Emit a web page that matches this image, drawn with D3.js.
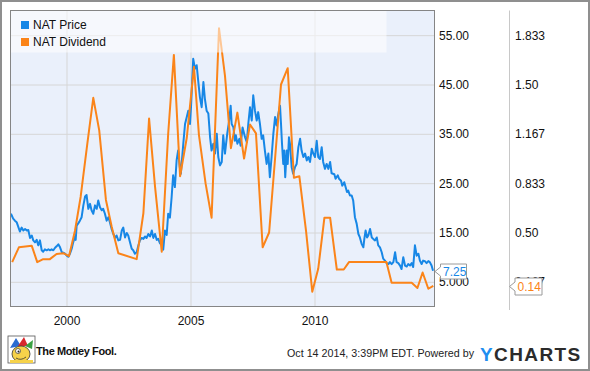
<!DOCTYPE html>
<html>
<head>
<meta charset="utf-8">
<script src="https://cdn.jsdelivr.net/npm/d3@7"></script>
<style>
  body { margin: 0; background: #fff; }
  svg { display: block; font-family: "Liberation Sans", Arial, sans-serif; }
</style>
</head>
<body>
<div id="chart"></div>
<script>
// NAT weekly price (decimal year, USD)
const priceYears = [
  1997.76, 1997.85, 1997.92, 1997.99, 1998.06, 1998.12, 1998.19, 1998.26, 1998.33, 1998.40,
  1998.46, 1998.53, 1998.60, 1998.66, 1998.73, 1998.80, 1998.86, 1998.93, 1999.00, 1999.06,
  1999.13, 1999.20, 1999.27, 1999.33, 1999.40, 1999.47, 1999.54, 1999.60, 1999.67, 1999.74,
  1999.81, 1999.87, 1999.94, 2000.01, 2000.07, 2000.14, 2000.21, 2000.27, 2000.34, 2000.37,
  2000.41, 2000.48, 2000.54, 2000.61, 2000.68, 2000.75, 2000.81, 2000.88, 2000.95, 2001.01,
  2001.08, 2001.15, 2001.22, 2001.28, 2001.35, 2001.42, 2001.48, 2001.55, 2001.62, 2001.69,
  2001.75, 2001.82, 2001.89, 2001.96, 2002.02, 2002.09, 2002.16, 2002.23, 2002.29, 2002.36,
  2002.43, 2002.49, 2002.56, 2002.63, 2002.69, 2002.76, 2002.83, 2002.90, 2002.96, 2003.03,
  2003.10, 2003.17, 2003.23, 2003.30, 2003.37, 2003.44, 2003.50, 2003.57, 2003.64, 2003.70,
  2003.77, 2003.84, 2003.90, 2003.97, 2004.04, 2004.10, 2004.17, 2004.24, 2004.30, 2004.37,
  2004.44, 2004.50, 2004.57, 2004.61, 2004.71, 2004.78, 2004.85, 2004.91, 2004.98, 2005.02,
  2005.11, 2005.18, 2005.25, 2005.31, 2005.38, 2005.45, 2005.52, 2005.58, 2005.65, 2005.72,
  2005.79, 2005.85, 2005.92, 2005.99, 2006.06, 2006.12, 2006.19, 2006.26, 2006.32, 2006.39,
  2006.48, 2006.56, 2006.62, 2006.66, 2006.73, 2006.79, 2006.83, 2006.89, 2006.97, 2007.02,
  2007.10, 2007.20, 2007.27, 2007.33, 2007.40, 2007.47, 2007.53, 2007.60, 2007.67, 2007.73,
  2007.80, 2007.87, 2007.93, 2008.00, 2008.07, 2008.14, 2008.20, 2008.27, 2008.34, 2008.41,
  2008.47, 2008.54, 2008.61, 2008.65, 2008.69, 2008.74, 2008.78, 2008.82, 2008.88, 2008.92,
  2008.97, 2009.01, 2009.08, 2009.14, 2009.21, 2009.28, 2009.35, 2009.42, 2009.48, 2009.55,
  2009.62, 2009.69, 2009.75, 2009.82, 2009.89, 2009.95, 2010.02, 2010.09, 2010.15, 2010.22,
  2010.29, 2010.35, 2010.42, 2010.49, 2010.56, 2010.63, 2010.69, 2010.80, 2010.85, 2010.94,
  2010.99, 2011.07, 2011.12, 2011.20, 2011.26, 2011.31, 2011.36, 2011.43, 2011.50, 2011.56,
  2011.63, 2011.70, 2011.77, 2011.83, 2011.90, 2011.97, 2012.01, 2012.06, 2012.12, 2012.17,
  2012.24, 2012.31, 2012.37, 2012.44, 2012.51, 2012.57, 2012.64, 2012.71, 2012.77, 2012.84,
  2012.91, 2012.98, 2013.04, 2013.11, 2013.18, 2013.25, 2013.31, 2013.38, 2013.45, 2013.51,
  2013.58, 2013.65, 2013.72, 2013.78, 2013.85, 2013.92, 2013.98, 2014.05, 2014.12, 2014.19,
  2014.25, 2014.32, 2014.38, 2014.45, 2014.52, 2014.59, 2014.65, 2014.72, 2014.78
];
const priceValues = [
  18.8, 17.8, 17.4, 17.1, 16.1, 15.2, 16.0, 15.4, 15.7, 15.4,
  15.5, 13.9, 14.4, 13.4, 13.0, 13.5, 12.4, 13.4, 11.4, 11.1,
  11.6, 11.4, 11.6, 11.4, 11.6, 11.4, 11.9, 12.2, 12.6, 12.0,
  11.0, 10.9, 10.7, 10.3, 10.1, 10.7, 11.7, 13.0, 14.2, 13.5,
  16.4, 16.9, 17.4, 18.1, 20.5, 22.3, 22.6, 19.8, 20.8, 19.5,
  18.8, 20.5, 19.8, 21.5, 20.1, 19.5, 19.8, 18.8, 17.4, 18.1,
  17.1, 15.7, 14.7, 13.9, 14.4, 13.4, 13.5, 15.4, 16.0, 14.0,
  14.9, 14.4, 13.0, 11.7, 11.4, 10.7, 11.0, 12.4, 13.4, 13.9,
  13.7, 14.2, 13.9, 14.7, 14.2, 15.4, 13.9, 14.7, 13.5, 13.7,
  12.8, 13.4, 11.5, 15.4, 14.5, 18.8, 18.0, 22.2, 26.6, 24.2,
  29.6, 31.6, 28.2, 26.9, 33.0, 37.0, 38.4, 39.7, 37.0, 40.4,
  50.2, 48.2, 48.9, 45.8, 42.4, 40.4, 45.5, 42.1, 39.7, 39.1,
  34.3, 31.6, 33.0, 31.0, 35.0, 30.3, 28.6, 29.3, 34.7, 31.0,
  35.0, 37.7, 40.7, 37.0, 36.3, 33.6, 34.7, 33.0, 34.0, 32.6,
  36.3, 34.3, 33.3, 37.0, 40.4, 37.7, 42.8, 39.7, 37.7, 39.4,
  37.0, 34.0, 34.7, 31.6, 28.9, 31.0, 26.2, 30.3, 35.0, 38.4,
  36.7, 39.0, 40.7, 37.0, 33.0, 28.9, 31.6, 26.2, 31.6, 28.9,
  34.3, 33.0, 28.2, 26.9, 28.2, 28.9, 32.3, 34.0, 31.6, 30.3,
  31.0, 29.6, 30.3, 29.3, 32.0, 31.0, 30.3, 33.6, 30.3, 29.9,
  32.3, 29.3, 27.9, 28.9, 27.9, 29.3, 27.0, 26.8, 25.9, 26.6,
  25.9, 25.5, 24.5, 25.2, 24.1, 23.2, 23.5, 22.5, 22.5, 21.5,
  18.1, 16.8, 14.7, 14.0, 12.7, 12.0, 13.7, 15.4, 14.0, 14.4,
  15.7, 14.0, 13.7, 13.4, 14.0, 12.4, 12.0, 11.0, 9.7, 9.3,
  8.8, 8.6, 9.0, 8.6, 9.0, 11.0, 9.0, 8.8, 8.3, 7.6,
  10.0, 8.3, 8.1, 8.6, 8.3, 8.8, 8.0, 12.4, 10.3, 10.7,
  9.3, 8.6, 9.3, 9.2, 8.8, 9.2, 9.0, 8.3, 7.25
];

// NAT dividend per share (decimal year, USD)
const divYears = [
  1997.81, 1998.08, 1998.60, 1998.82, 1999.06, 1999.33, 1999.60, 1999.87, 2000.10, 2000.34,
  2000.57, 2000.84, 2001.08, 2001.32, 2001.59, 2001.82, 2002.09, 2002.83, 2003.10, 2003.33,
  2003.57, 2003.84, 2004.10, 2004.33, 2004.58, 2004.85, 2005.14, 2005.34, 2005.61, 2005.85,
  2006.15, 2006.39, 2006.63, 2006.89, 2007.16, 2007.40, 2007.64, 2007.91, 2008.17, 2008.65,
  2008.92, 2009.17, 2009.39, 2009.66, 2009.91, 2010.15, 2010.40, 2010.63, 2010.90, 2011.18,
  2011.39, 2012.90, 2013.11, 2013.92, 2014.15, 2014.36, 2014.59, 2014.79
];
const divValues = [
  0.30, 0.40, 0.41, 0.30, 0.32, 0.32, 0.355, 0.36, 0.34, 0.51,
  0.74, 1.10, 1.41, 1.19, 0.72, 0.54, 0.36, 0.32, 0.63, 1.27,
  0.81, 0.37, 1.167, 1.70, 0.88, 1.14, 1.62, 1.16, 0.83, 0.60,
  1.88, 1.56, 1.07, 1.31, 1.00, 1.23, 1.17, 0.40, 0.50, 1.50,
  1.61, 0.87, 0.88, 0.51, 0.10, 0.255, 0.60, 0.60, 0.25, 0.25,
  0.30, 0.30, 0.16, 0.16, 0.125, 0.23, 0.12, 0.14
];

const yearTicks = [2000, 2005, 2010];
const priceTicks = [5, 15, 25, 35, 45, 55];
const priceTickLabels = ["5.000", "15.00", "25.00", "35.00", "45.00", "55.00"];
const divTicks = [5 / 30, 0.5, 25 / 30, 35 / 30, 1.5, 55 / 30];
const divTickLabels = ["0.167", "0.50", "0.833", "1.167", "1.50", "1.833"];
const seriesNames = ["NAT Price", "NAT Dividend"];
const seriesColors = ["#1787e6", "#fb8419"];

const width = 590, height = 371;
const plot = { left: 10.5, top: 10.5, right: 434.5, bottom: 306.5 };

const svg = d3.select("#chart").append("svg")
  .attr("width", width)
  .attr("height", height);

// outer frame
svg.append("rect")
  .attr("x", 1).attr("y", 1)
  .attr("width", width - 2).attr("height", height - 2)
  .attr("fill", "#fff").attr("stroke", "#8f8f8f").attr("stroke-width", 2);

const x = d3.scaleLinear()
  .domain([1997.742, 2014.839])
  .range([plot.left, plot.right]);
const yPrice = d3.scaleLinear().domain([0, 60]).range([plot.bottom, plot.top]);
const yDiv = d3.scaleLinear().domain([0, 2]).range([plot.bottom, plot.top]);

// plot background
svg.append("rect")
  .attr("x", plot.left).attr("y", plot.top)
  .attr("width", plot.right - plot.left).attr("height", plot.bottom - plot.top)
  .attr("fill", "#eaf0fb");

// grid
const xGrid = d3.axisBottom(x).tickValues(yearTicks).tickSize(-(plot.bottom - plot.top)).tickFormat("");
const yGrid = d3.axisLeft(yPrice).tickValues(priceTicks).tickSize(-(plot.right - plot.left)).tickFormat("");

svg.append("g")
  .attr("transform", `translate(0,${plot.bottom})`)
  .call(xGrid)
  .call(g => g.select(".domain").remove())
  .selectAll("line").attr("stroke", "#d6d6d6");

svg.append("g")
  .attr("transform", `translate(${plot.left},0)`)
  .call(yGrid)
  .call(g => g.select(".domain").remove())
  .selectAll("line").attr("stroke", "#d6d6d6");

// lines
const priceData = priceYears.map((t, i) => [t, priceValues[i]]);
const divData = divYears.map((t, i) => [t, divValues[i]]);

svg.append("path")
  .datum(priceData)
  .attr("fill", "none")
  .attr("stroke", seriesColors[0])
  .attr("stroke-width", 2)
  .attr("stroke-linejoin", "round")
  .attr("d", d3.line().x(d => x(d[0])).y(d => yPrice(d[1])));

svg.append("path")
  .datum(divData)
  .attr("fill", "none")
  .attr("stroke", seriesColors[1])
  .attr("stroke-width", 2)
  .attr("stroke-linejoin", "round")
  .attr("d", d3.line().x(d => x(d[0])).y(d => yDiv(d[1])));

// legend (translucent box over the lines)
svg.append("rect")
  .attr("x", plot.left).attr("y", plot.top)
  .attr("width", 376).attr("height", 42)
  .attr("fill", "#fff").attr("fill-opacity", 0.55);

const legend = svg.append("g").attr("transform", "translate(21,21)");
seriesNames.forEach((name, i) => {
  legend.append("rect")
    .attr("x", 0).attr("y", i * 17)
    .attr("width", 8).attr("height", 8)
    .attr("fill", seriesColors[i]);
  legend.append("text")
    .attr("x", 12).attr("y", i * 17 + 7.5)
    .attr("font-size", 12)
    .attr("fill", "#111")
    .text(name);
});

// plot border
svg.append("rect")
  .attr("x", plot.left).attr("y", plot.top)
  .attr("width", plot.right - plot.left).attr("height", plot.bottom - plot.top)
  .attr("fill", "none").attr("stroke", "#858585").attr("stroke-width", 1);

// x axis
svg.append("g")
  .attr("transform", `translate(0,${plot.bottom})`)
  .call(d3.axisBottom(x).tickValues(yearTicks).tickSize(0).tickPadding(10).tickFormat(d3.format("d")))
  .call(g => g.select(".domain").remove())
  .selectAll("text").attr("font-size", 12).attr("font-family", "Liberation Sans, Arial, sans-serif").attr("fill", "#111");

// price axis
svg.append("g")
  .attr("transform", `translate(${plot.right},0)`)
  .call(d3.axisRight(yPrice).tickValues(priceTicks).tickSize(0).tickPadding(4.5)
    .tickFormat((d, i) => priceTickLabels[i]))
  .call(g => g.select(".domain").remove())
  .selectAll("text").attr("font-size", 12).attr("font-family", "Liberation Sans, Arial, sans-serif").attr("fill", "#111");

// separator between the two value axes
svg.append("line")
  .attr("x1", 509.5).attr("x2", 509.5)
  .attr("y1", plot.top).attr("y2", 310)
  .attr("stroke", "#c8c8c8");

// dividend axis
svg.append("g")
  .attr("transform", "translate(509.5,0)")
  .call(d3.axisRight(yDiv).tickValues(divTicks).tickSize(0).tickPadding(5.5)
    .tickFormat((d, i) => divTickLabels[i]))
  .call(g => g.select(".domain").remove())
  .selectAll("text").attr("font-size", 12).attr("font-family", "Liberation Sans, Arial, sans-serif").attr("fill", "#111");

// last-value flags
function flag(tipX, tipY, w, h, color, label) {
  const bx = tipX + 5.5, top = tipY - h / 2;
  svg.append("path")
    .attr("d", `M${tipX},${tipY} L${bx},${tipY - 4.5} V${top} H${bx + w} V${top + h} H${bx} V${tipY + 4.5} Z`)
    .attr("fill", "#fff").attr("stroke", "#9a9a9a");
  svg.append("text")
    .attr("x", bx + 2.5).attr("y", tipY + 4.5)
    .attr("font-size", 12).attr("fill", color)
    .text(label);
}
flag(435, Math.round(yPrice(priceValues[priceValues.length - 1])) + 0.5, 26, 15, seriesColors[0], "7.25");
flag(509.5, Math.round(yDiv(divValues[divValues.length - 1])) + 0.5, 27, 17, seriesColors[1], "0.14");

// footer: Motley Fool mark
const fool = svg.append("g").attr("transform", "translate(8,336)");
fool.append("rect").attr("width", 27).attr("height", 27).attr("fill", "#fff").attr("stroke", "#555").attr("stroke-width", 0.8);
fool.append("path").attr("d", "M2,12 L8,2 L13,10 Z").attr("fill", "#2a6bd1");
fool.append("path").attr("d", "M10,10 L16,1 L20,10 Z").attr("fill", "#d8282d");
fool.append("path").attr("d", "M17,10 L25,4 L24,13 Z").attr("fill", "#3aa142");
fool.append("ellipse").attr("cx", 13).attr("cy", 18).attr("rx", 9).attr("ry", 8).attr("fill", "#f6d24a").attr("stroke", "#333").attr("stroke-width", 0.8);
fool.append("circle").attr("cx", 10).attr("cy", 15).attr("r", 2.5).attr("fill", "#fff").attr("stroke", "#333").attr("stroke-width", 0.7);
fool.append("circle").attr("cx", 10.5).attr("cy", 15.5).attr("r", 1).attr("fill", "#222");
fool.append("path").attr("d", "M8,22 Q13,25 18,21").attr("fill", "none").attr("stroke", "#333").attr("stroke-width", 0.8);
fool.append("rect").attr("x", 2).attr("y", 24).attr("width", 23).attr("height", 3).attr("fill", "#f6d24a");

svg.append("text")
  .attr("x", 36).attr("y", 355)
  .attr("font-size", 11).attr("font-weight", "bold")
  .attr("letter-spacing", -0.4)
  .attr("fill", "#111")
  .text("The Motley Fool.");

svg.append("text")
  .attr("x", 287).attr("y", 357)
  .attr("font-size", 11)
  .attr("textLength", 187).attr("lengthAdjust", "spacingAndGlyphs")
  .attr("fill", "#222")
  .text("Oct 14 2014, 3:39PM EDT.  Powered by");

const yc = svg.append("text")
  .attr("x", 480).attr("y", 361)
  .attr("font-size", 19).attr("font-weight", "bold")
  .attr("letter-spacing", 1.4);
yc.append("tspan").attr("fill", "#1f8ef0").text("Y");
yc.append("tspan").attr("fill", "#2b2b2b").text("CHARTS");
</script>
</body>
</html>
